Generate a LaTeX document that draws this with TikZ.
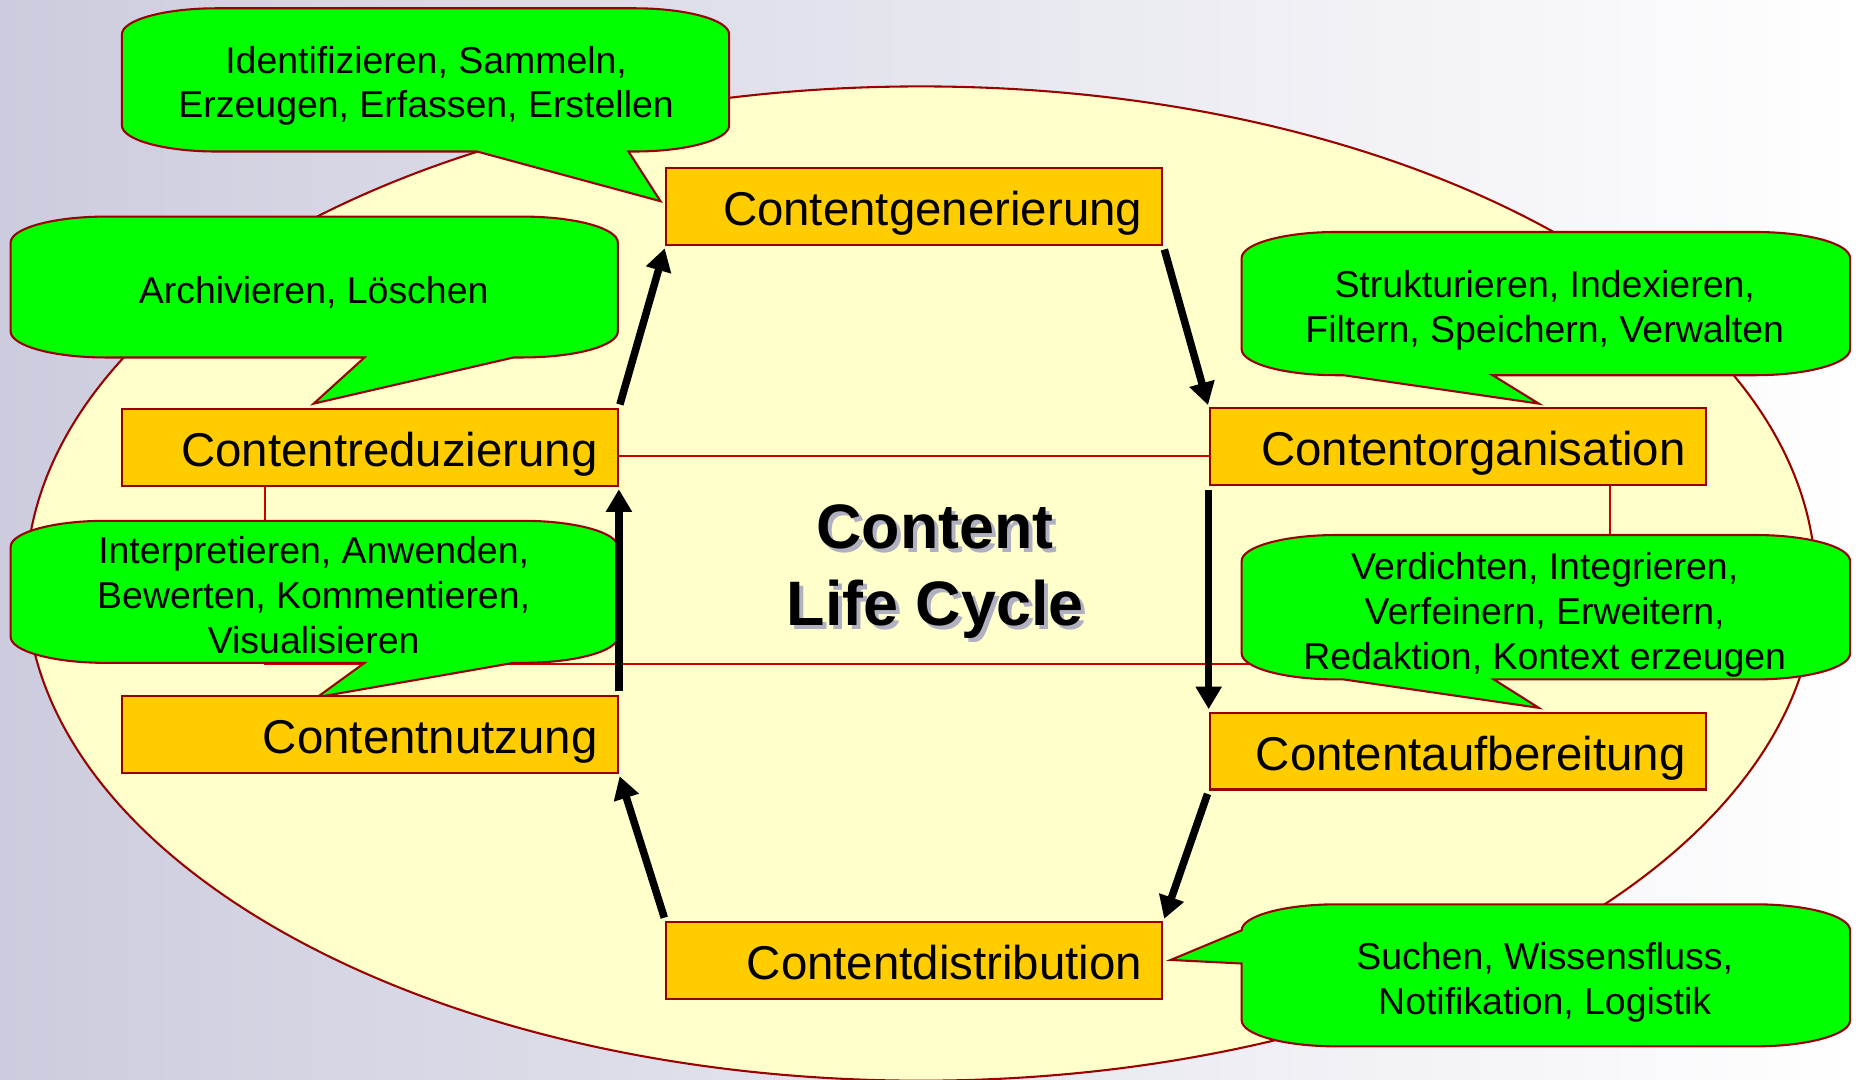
\documentclass[tikz,border=0pt]{standalone}
\usepackage{fontspec}
\setmainfont{Liberation Sans}
\usetikzlibrary{arrows.meta}

\definecolor{bgl}{RGB}{204,204,222}
\definecolor{eggfill}{RGB}{255,255,204}
\definecolor{edge}{RGB}{153,0,0}
\definecolor{frameline}{RGB}{200,0,0}
\definecolor{boxfill}{RGB}{255,204,0}
\definecolor{bubgreen}{RGB}{0,255,0}
\definecolor{shadowgray}{RGB}{176,176,192}

% callout body with elliptic corners; #5 = tail on the bottom edge, #6 = tail on the left edge
\def\brx{80}\def\bry{22}
\newcommand{\bubble}[6]{%
  \draw[bubble] (#1,#2+\bry) .. controls (#1,#2+0.45*\bry) and (#1+0.45*\brx,#2) .. (#1+\brx,#2)
    -- (#3-\brx,#2) .. controls (#3-0.45*\brx,#2) and (#3,#2+0.45*\bry) .. (#3,#2+\bry)
    -- (#3,#4-\bry) .. controls (#3,#4-0.45*\bry) and (#3-0.45*\brx,#4) .. (#3-\brx,#4)
    #5 -- (#1+\brx,#4) .. controls (#1+0.45*\brx,#4) and (#1,#4-0.45*\bry) .. (#1,#4-\bry)
    #6 -- cycle;}

\begin{document}
\begin{tikzpicture}[x=0.1mm,y=-0.1mm,
  stage/.style={draw=edge,fill=boxfill,line width=0.5pt,minimum width=41.9mm,minimum height=6.5mm,
    text width=38.5mm,text height=0.92em,text depth=0pt,inner xsep=1.7mm,inner ysep=0pt,align=right,
    font=\fontsize{11.4}{13}\selectfont},
  bubble/.style={draw=edge,fill=bubgreen,line width=0.5pt},
  bubtext/.style={align=center,inner sep=0pt,font=\fontsize{9}{10.8}\selectfont},
  title/.style={align=center,inner sep=0pt,font=\bfseries\fontsize{15.1}{18.5}\selectfont},
  arr/.style={line width=1.8pt,shorten <=0.3mm,shorten >=0.2mm,-{Triangle[length=1.9mm,width=2.1mm]}}]
  \useasboundingbox (0,0) rectangle (1568,912);
  \shade[left color=bgl,right color=white] (0,0) rectangle (1568,912);
  \draw[edge,fill=eggfill,line width=0.5pt] (778,493) ellipse [x radius=75.6mm,y radius=42mm];
  \draw[frameline,line width=0.5pt] (224,385) rectangle (1360,561);

  % callouts
  \bubble{103}{7}{616}{128}{-- (531,128) -- (558,170) -- (403,128)}{}
  \bubble{9}{183}{522}{302}{-- (434,302) -- (265,341) -- (308,302)}{}
  \bubble{9}{440}{522}{560}{-- (434,560) -- (268,589) -- (308,560)}{}
  \bubble{1049}{196}{1563}{317}{-- (1261,317) -- (1300,341) -- (1135,317)}{}
  \bubble{1049}{452}{1563}{574}{-- (1262,574) -- (1300,598) -- (1135,574)}{}
  \bubble{1049}{764}{1563}{884}{}{-- (1049,814) -- (989,811)}
  \node[bubtext] (tgen) at (360,72.5) {Identifizieren, Sammeln,\\Erzeugen, Erfassen, Erstellen};
  \node[bubtext] (tred) at (265,247) {Archivieren, Löschen};
  \node[bubtext] (tnutz) at (265,503) {Interpretieren, Anwenden,\\Bewerten, Kommentieren,\\Visualisieren};
  \node[bubtext] (torg) at (1305,262) {Strukturieren, Indexieren,\\Filtern, Speichern, Verwalten};
  \node[bubtext] (tauf) at (1305,519.5) {Verdichten, Integrieren,\\Verfeinern, Erweitern,\\Redaktion, Kontext erzeugen};
  \node[bubtext] (tdist) at (1305,830) {Suchen, Wissensfluss,\\Notifikation, Logistik};

  % stages of the cycle
  \foreach \n/\x/\y/\t in {gen/772.5/174.5/Contentgenerierung, org/1231.5/377.5/Contentorganisation,
      auf/1231.5/634.5/Contentaufbereitung, dist/772.5/811.5/Contentdistribution,
      nutz/312.5/620.5/Contentnutzung, red/312.5/378/Contentreduzierung}
    \node[stage] (\n) at (\x,\y) {\t};

  \foreach \a/\b in {red.north east/gen.south west, gen.south east/org.north west,
      org.south west/auf.north west, auf.south west/dist.north east,
      dist.north west/nutz.south east, nutz.north east/red.south east}
    \draw[arr] (\a) -- (\b);

  \node[title,text=shadowgray] (titleshadow) at (793.5,486.5) {Content\\Life Cycle};
  \node[title] (title) at (790,483) {Content\\Life Cycle};
\end{tikzpicture}
\end{document}
